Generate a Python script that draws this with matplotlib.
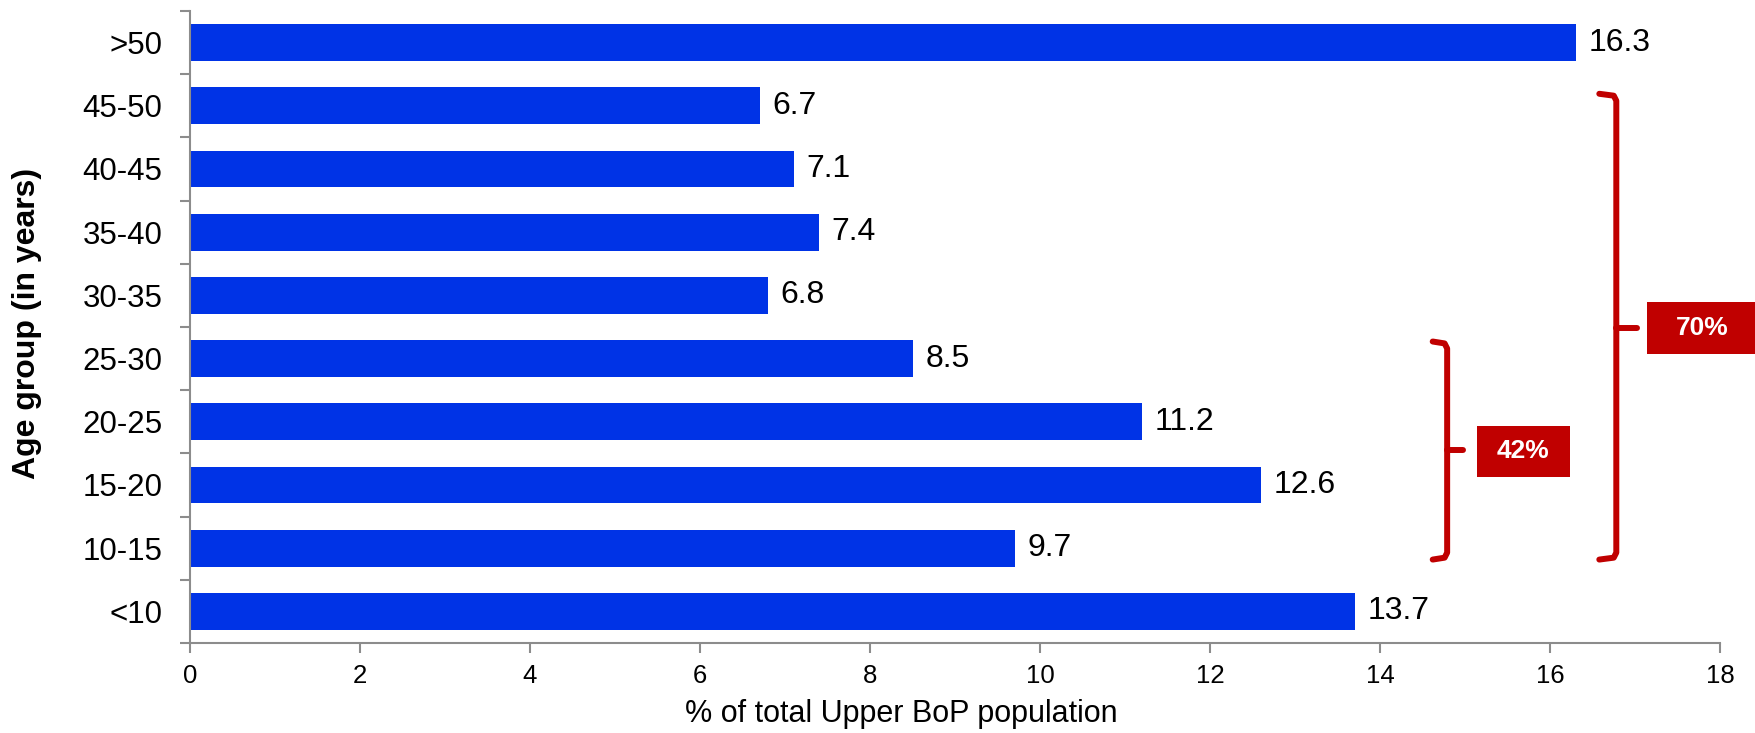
"""
Age distribution of the Upper BoP population, horizontal bar chart
with two red brackets summarising the younger age bands.
"""

import matplotlib
matplotlib.use("Agg")
import matplotlib.pyplot as plt
from matplotlib.lines import Line2D
from matplotlib.patches import Rectangle

plt.rcParams["font.family"] = ["Liberation Sans", "DejaVu Sans"]

# ---------------------------------------------------------------------------
# Data (bottom to top)
# ---------------------------------------------------------------------------
age_groups = ["<10", "10-15", "15-20", "20-25", "25-30",
              "30-35", "35-40", "40-45", "45-50", ">50"]
share_pct = [13.7, 9.7, 12.6, 11.2, 8.5, 6.8, 7.4, 7.1, 6.7, 16.3]
x_ticks = [0, 2, 4, 6, 8, 10, 12, 14, 16, 18]

bracket_labels = ["42%", "70%"]

BAR_BLUE = "#0033E6"
RED = "#C00000"
GREY = "#8C8C8C"

# ---------------------------------------------------------------------------
# Figure
# ---------------------------------------------------------------------------
fig = plt.figure(figsize=(17.56, 7.33), dpi=100)
ax = fig.add_axes([0.1082, 0.1228, 0.8713, 0.8622])

ypos = list(range(len(age_groups)))
ax.barh(ypos, share_pct, height=0.58, color=BAR_BLUE, zorder=2)

for y, v in zip(ypos, share_pct):
    ax.text(v + 0.15, y, f"{v:.1f}", va="center", ha="left",
            fontsize=23, color="black")

ax.set_xlim(0, 18)
ax.set_ylim(-0.5, len(age_groups) - 0.5)
ax.set_xticks(x_ticks)
ax.set_xticklabels([str(t) for t in x_ticks], fontsize=18.5)
ax.set_yticks(ypos)
ax.set_yticklabels(age_groups, fontsize=22.5)
ax.set_yticks([i - 0.5 for i in range(len(age_groups) + 1)], minor=True)

ax.tick_params(axis="y", which="major", length=0, pad=20)
ax.tick_params(axis="y", which="minor", length=7, width=1.5, color=GREY,
               direction="out")
ax.tick_params(axis="x", length=7, width=1.5, color=GREY, direction="out",
               pad=8)

for side in ("top", "right"):
    ax.spines[side].set_visible(False)
for side in ("left", "bottom"):
    ax.spines[side].set_color(GREY)
    ax.spines[side].set_linewidth(1.5)

ax.set_xlabel("% of total Upper BoP population", fontsize=22)
ax.xaxis.set_label_coords(0.465, -0.088)
ax.set_ylabel("Age group (in years)", fontsize=23, fontweight="bold")
ax.yaxis.set_label_coords(-0.0967, 0.506)


# ---------------------------------------------------------------------------
# Brackets
# ---------------------------------------------------------------------------
def draw_bracket(x, y_bot, y_top, y_mid, hook, nub, label, box):
    xs = [x - hook, x - 0.03, x, x, x - 0.03, x - hook]
    ys = [y_top + 0.03, y_top, y_top - 0.08, y_bot + 0.08, y_bot, y_bot - 0.03]
    ax.add_line(Line2D(xs, ys, color=RED, lw=4.3, clip_on=False,
                       solid_joinstyle="round", solid_capstyle="round"))
    ax.add_line(Line2D([x, x + nub], [y_mid, y_mid], color=RED, lw=4.3,
                       clip_on=False, solid_capstyle="round"))
    bx0, bx1, by0, by1 = box
    ax.add_patch(Rectangle((bx0, by0), bx1 - bx0, by1 - by0, facecolor=RED,
                           edgecolor="none", clip_on=False))
    ax.text((bx0 + bx1) / 2, (by0 + by1) / 2, label, color="white",
            fontsize=19, fontweight="bold", ha="center", va="center")


draw_bracket(14.79, 0.85, 4.24, 2.56, 0.17, 0.19, bracket_labels[0],
             (15.14, 16.23, 2.12, 2.94))
draw_bracket(16.78, 0.85, 8.16, 4.49, 0.2, 0.24, bracket_labels[1],
             (17.14, 18.45, 4.08, 4.90))

fig.savefig("out.png", dpi=100)
